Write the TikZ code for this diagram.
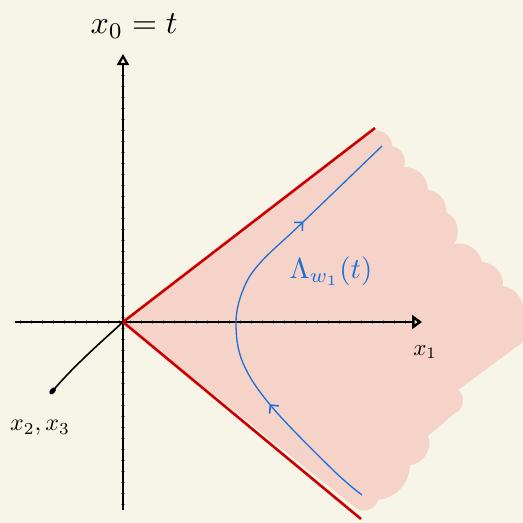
\documentclass[tikz,border=0pt]{standalone}
\usetikzlibrary{arrows.meta,decorations.markings}
\definecolor{bg}{HTML}{F7F4E8}
\definecolor{pinkfill}{HTML}{F6D3C8}
\definecolor{lightred}{HTML}{CC0000}
\definecolor{curveblue}{HTML}{1A6FD8}
\tikzset{
  axis/.style={line width=2.8pt, black},
  tick/.style={line width=0.6pt, black!45},
  cone/.style={line width=2.6pt, lightred},
  world/.style={line width=1.3pt, curveblue},
  lbl/.style={inner sep=0pt, black, transform shape},
}
\begin{document}
\begin{tikzpicture}[x=1pt,y=-1pt]
\fill[bg] (0,0) rectangle (523,523);
\useasboundingbox (0,0) rectangle (523,523);

\coordinate (O) at (123,322);
\coordinate (ytop) at (123,54);
\coordinate (ybot) at (123,510);
\coordinate (xl) at (15,322);
\coordinate (xr) at (422,322);
\coordinate (zend) at (50,394);
\coordinate (ru) at (375,128);
\coordinate (rl) at (361,519);

% pink future region
\fill[pinkfill] (O) -- (372,131)
  to[bend left=55] (392,146) to[bend left=50] (404,167) to[bend left=45] (428,190)
  to[bend left=45] (446,212) to[bend left=50] (454,244) to[bend left=45] (482,262)
  to[bend left=45] (503,286) to[bend left=45] (523,314) -- (523,342) -- (458,390)
  to[bend left=70] (455,413) -- (428,436) to[bend left=55] (410,465)
  to[bend left=40] (378,500) to[bend left=60] (356,508) -- cycle;

% ticks
\foreach \i in {20,31,...,410} \draw[tick] (\i,320) -- (\i,324);
\foreach \j in {64,75,...,505} \draw[tick] (121,\j) -- (125,\j);

% axes
\draw[axis, -{Triangle[open,length=11pt,width=12pt,line width=2.2pt]}] (ybot) -- (ytop);
\draw[axis, -{Triangle[open,length=10pt,width=14pt,line width=3pt]}] (xl) -- (xr);
\draw[line width=1.6pt, -{Circle[length=8pt,width=5pt]}] (O) .. controls (100,343) and (75,365) .. (zend);

% light cone
\draw[cone] (O) -- (ru);
\draw[cone] (O) -- (rl);

% world line
\draw[world, postaction={decorate}, decoration={markings,
    mark=at position 0.285 with {\arrow{Straight Barb[length=6pt,width=12pt,line width=1.6pt]}},
    mark=at position 0.76 with {\arrow{Straight Barb[length=6pt,width=12pt,line width=1.6pt]}}}]
  plot[smooth, tension=0.6] coordinates {(362,495) (333,470) (272,407) (243,363) (236,323) (243,290) (260,263) (302,223) (382,146)};

% labels
\node[lbl, scale=3.2] (tlabel) at (134,26) {$x_0=t$};
\node[lbl, scale=2.3] (x1label) at (425,352) {$x_1$};
\node[lbl, scale=2.4] (x23label) at (40,428) {$x_2,x_3$};
\node[lbl, scale=2.9, text=curveblue] (wlabel) at (331,271) {$\Lambda_{w_1}(t)$};
\end{tikzpicture}
\end{document}
